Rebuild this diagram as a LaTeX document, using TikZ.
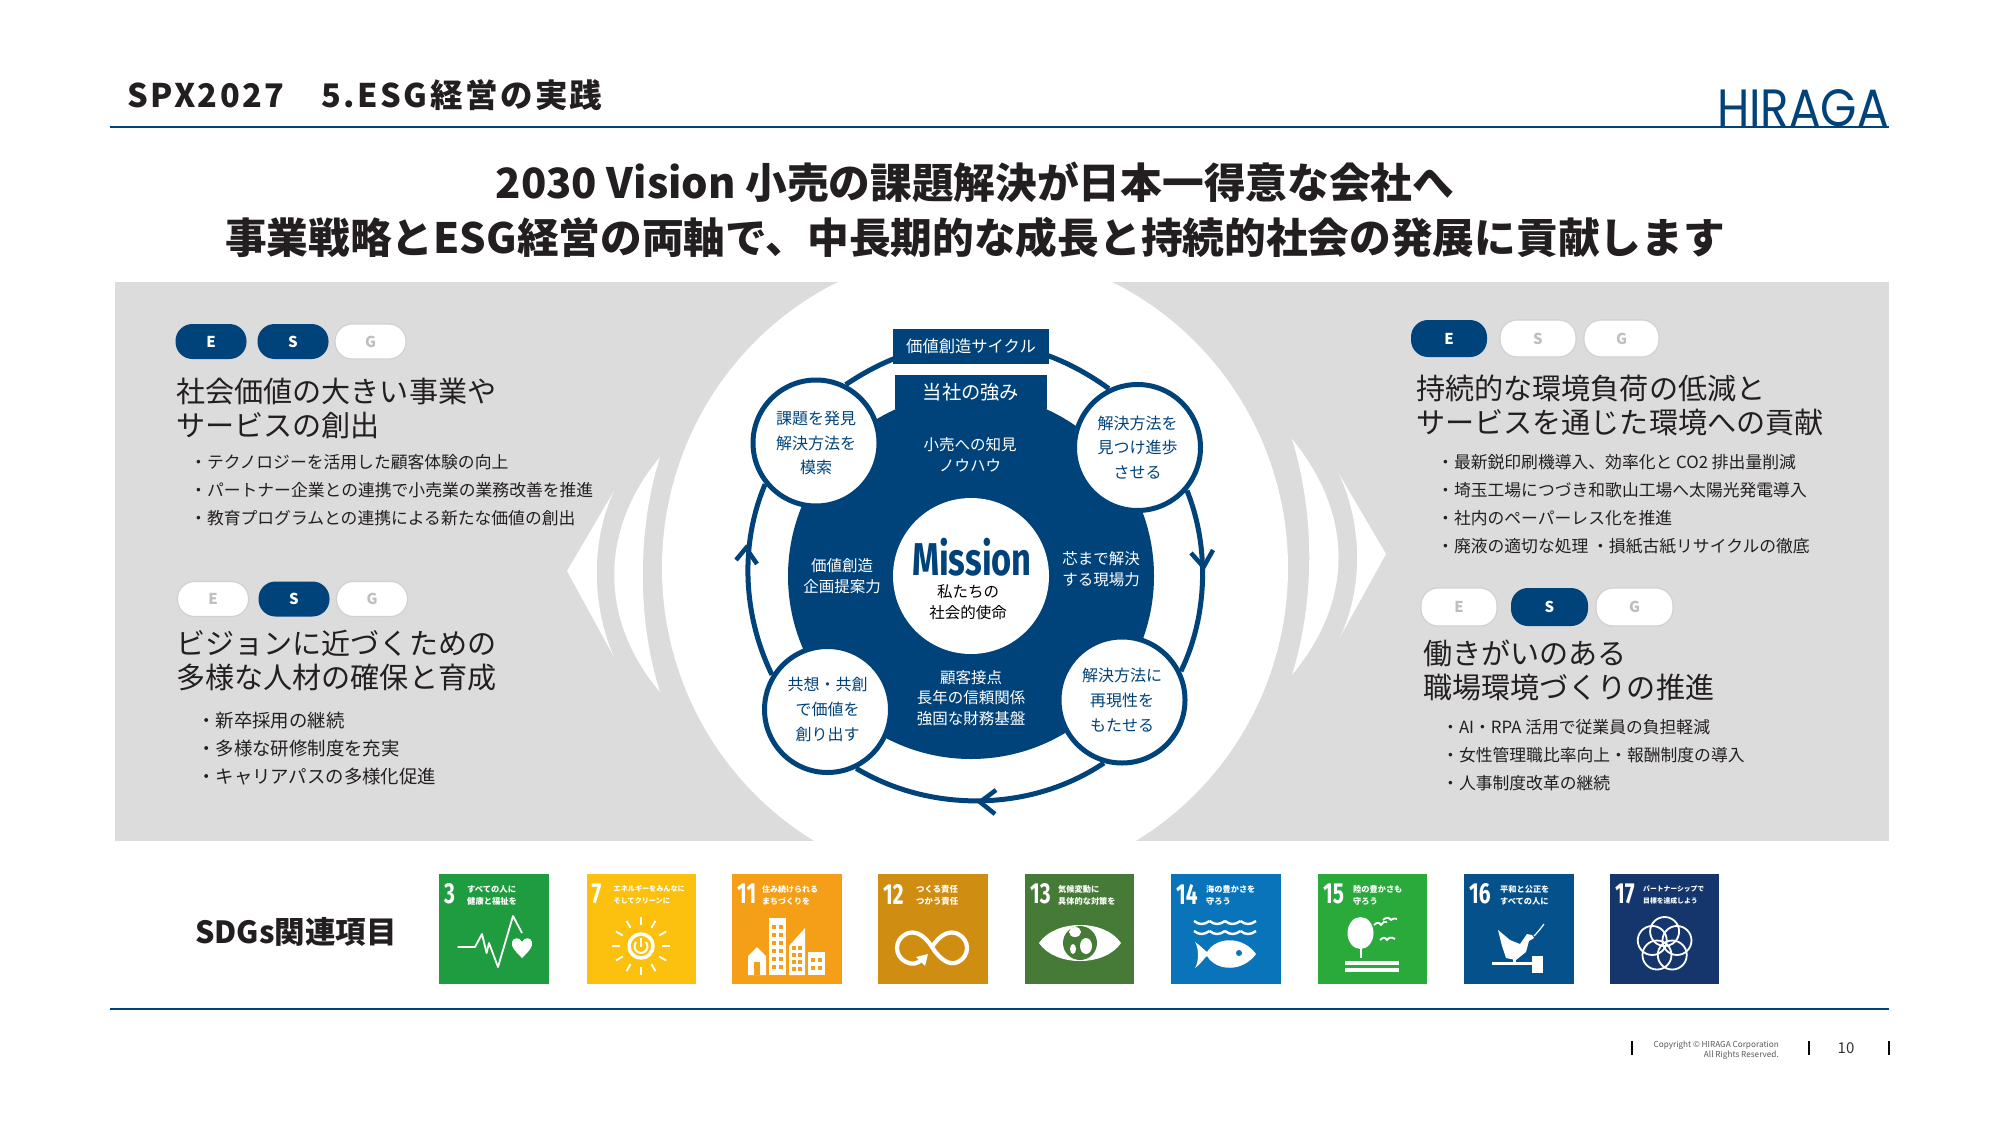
\documentclass[tikz,border=0pt]{standalone}
\usepackage{fontspec}
\setmainfont{Noto Sans CJK JP}
\newfontfamily\spacedfont[LetterSpace=7.5]{Noto Sans CJK JP}
\newfontfamily\logofont{Poppins}
\newfontfamily\numfont{Fira Sans}
\definecolor{navy}{HTML}{00437A}
\definecolor{panelgray}{HTML}{DCDCDC}
\definecolor{inkdark}{HTML}{231F20}
\definecolor{sdgiii}{HTML}{1F9C3F}
\definecolor{sdgvii}{HTML}{FBC10E}
\definecolor{sdgxi}{HTML}{F59E17}
\definecolor{sdgxii}{HTML}{CF8E12}
\definecolor{sdgxiii}{HTML}{467A37}
\definecolor{sdgxiv}{HTML}{0A74BA}
\definecolor{sdgxv}{HTML}{2BAA3C}
\definecolor{sdgxvi}{HTML}{04518C}
\definecolor{sdgxvii}{HTML}{15366D}
\tikzset{
  pillon/.style={rounded corners=17pt,fill=navy,text=white,minimum width=71pt,minimum height=35pt,inner sep=0pt,font=\fontsize{15}{15}\selectfont\bfseries},
  pilloff/.style={rounded corners=17pt,fill=white,draw=black!18,line width=1.2pt,text=black!25,minimum width=71pt,minimum height=35pt,inner sep=0pt,font=\fontsize{15}{15}\selectfont\bfseries},
  headline/.style={anchor=west,align=left,inner sep=0pt,text=inkdark,font=\fontsize{29.1}{34}\selectfont},
  bullets/.style={anchor=west,align=left,inner sep=0pt,text=inkdark,font=\fontsize{16.8}{28}\selectfont},
  stepcircle/.style={circle,draw=navy,line width=5pt,fill=white,minimum size=126pt,inner sep=0pt,align=center,text=navy,font=\fontsize{16}{24.8}\selectfont},
  disctext/.style={align=center,inner sep=0pt,text=white,font=\fontsize{15.5}{20.7}\selectfont},
  ringline/.style={draw=navy,line width=5pt},
  iconline/.style={draw=white,line width=1.8pt,line join=round},
  sdgtext/.style={anchor=west,align=left,inner sep=0pt,text=white}
}
\newcommand{\sdgbox}[7]{%
  \fill[#2] (0,0) rectangle (#1,110);
  \node[inner sep=0pt,text=white,anchor=west] (num#3) at (5,20) {\scalebox{.72}[1]{\numfont\bfseries\fontsize{29}{29}\selectfont #3}};
  \node[sdgtext,font=\bfseries\fontsize{#5}{#6}\selectfont] (txt#3) at (#4,21) {#7};
}
\begin{document}
\begin{tikzpicture}[x=1pt,y=-1pt]
\useasboundingbox (0,0) rectangle (2000,1121);
\fill[white] (0,0) rectangle (2000,1121);

\draw[navy,line width=2.2pt] (110,127)--(1889,127);
\draw[navy,line width=2.2pt] (110,1009)--(1889,1009);
\node[anchor=west,inner sep=0pt,text=inkdark,font=\spacedfont\bfseries\fontsize{32.5}{32.5}\selectfont] (pagetitle) at (127,95) {SPX2027　5.ESG経営の実践};
\node[anchor=base east,inner sep=0pt,text=navy] (logo) at (1889,127) {\scalebox{1.07}[1.2]{\logofont\fontsize{43.7}{43.7}\selectfont HIRAGA}};

\node[inner sep=0pt,text=inkdark,font=\bfseries\fontsize{41.7}{41.7}\selectfont] (visionone) at (975,182) {2030 Vision 小売の課題解決が日本一得意な会社へ};
\node[inner sep=0pt,text=inkdark,font=\bfseries\fontsize{41.7}{41.7}\selectfont] (visiontwo) at (975,238) {事業戦略とESG経営の両軸で、中長期的な成長と持続的社会の発展に貢献します};

\begin{scope}
\clip (115,282) rectangle (1889,841);
\fill[panelgray] (115,282) rectangle (1889,841);
\fill[white] (975,568) ellipse [x radius=313pt,y radius=318pt];
\end{scope}

\fill[white] (567,571)--(614,491) .. controls (591,540) and (591,605) .. (614,657)--cycle;
\fill[white] (660,457) .. controls (599,530) and (599,620) .. (660,692) .. controls (637,620) and (637,530) .. (660,457);
\fill[white] (1292,439) .. controls (1315,515) and (1315,600) .. (1292,675) .. controls (1354,600) and (1354,515) .. (1292,439);
\fill[white] (1339,474) .. controls (1363,525) and (1363,590) .. (1340,637)--(1386,554)--cycle;

\fill[navy] (971,576) circle [radius=183pt];
\node[fill=navy,minimum width=152pt,minimum height=34pt,inner sep=0pt,text=white,font=\fontsize{19.3}{19.3}\selectfont] (strength) at (971,392) {当社の強み};
\fill[white] (971,576) circle [radius=78pt];

\node[stepcircle] (find) at (816,443) {課題を発見\\解決方法を\\模索};
\node[stepcircle] (advance) at (1137.5,447.5) {解決方法を\\見つけ進歩\\させる};
\node[stepcircle] (repeatable) at (1122,700) {解決方法に\\再現性を\\もたせる};
\node[stepcircle] (cocreate) at (827.5,709.5) {共想・共創\\で価値を\\創り出す};

\draw[ringline] (find.63) to[out=34,in=144] (advance.116);
\draw[ringline] (advance.-41) to[out=-68,in=64,looseness=.86] (repeatable.26);
\draw[ringline] (repeatable.-106) to[out=214,in=-31,looseness=.9] (cocreate.-64);
\draw[ringline] (cocreate.148) to[out=116,in=247,looseness=.88] (find.219);
\draw[ringline,line width=4.5pt] (1191,553)--(1203.6,567)--(1213,550);
\draw[ringline,line width=4.5pt] (736,560)--(746,548)--(757,564);
\draw[ringline,line width=4.5pt] (996,790)--(980,802)--(995,814);

\node[fill=navy,minimum width=156pt,minimum height=35pt,inner sep=0pt,text=white,font=\fontsize{16.3}{16.3}\selectfont] (cycle) at (971,346.5) {価値創造サイクル};

\node[disctext] (knowhow) at (970,454.5) {小売への知見\\ノウハウ};
\node[disctext] (proposal) at (842,576) {価値創造\\企画提案力};
\node[disctext] (solving) at (1101,569) {芯まで解決\\する現場力};
\node[disctext] (customer) at (971,698) {顧客接点\\長年の信頼関係\\強固な財務基盤};
\node[inner sep=0pt,text=navy] (mission) at (972,557) {\scalebox{.75}[1]{\numfont\bfseries\fontsize{46}{46}\selectfont Mission}};
\node[disctext,text=black] (purpose) at (968,602.5) {私たちの\\社会的使命};

\node[pillon] (pea) at (211,341.5) {E};
\node[pillon] (pes) at (293,341.5) {S};
\node[pilloff] (peg) at (370.5,341.5) {G};
\node[headline] (headvalue) at (176,408) {社会価値の大きい事業や\\サービスの創出};
\node[bullets] (listvalue) at (190,490) {・テクノロジーを活用した顧客体験の向上\\・パートナー企業との連携で小売業の業務改善を推進\\・教育プログラムとの連携による新たな価値の創出};

\node[pilloff] (pbe) at (213,599) {E};
\node[pillon] (pbs) at (294,599) {S};
\node[pilloff] (pbg) at (372,599) {G};
\node[headline] (headpeople) at (176,660.5) {ビジョンに近づくための\\多様な人材の確保と育成};
\node[bullets,font=\fontsize{18.4}{28}\selectfont] (listpeople) at (197,748.5) {・新卒採用の継続\\・多様な研修制度を充実\\・キャリアパスの多様化促進};

\node[pillon,minimum width=76pt,minimum height=37pt] (qae) at (1449,338.5) {E};
\node[pilloff,minimum width=76pt,minimum height=37pt] (qas) at (1538,338.5) {S};
\node[pilloff,minimum width=75pt,minimum height=37pt] (qag) at (1621.5,338.5) {G};
\node[headline] (headenv) at (1416,405.5) {持続的な環境負荷の低減と\\サービスを通じた環境への貢献};
\node[bullets] (listenv) at (1437,504) {・最新鋭印刷機導入、効率化と CO2 排出量削減\\・埼玉工場につづき和歌山工場へ太陽光発電導入\\・社内のペーパーレス化を推進\\・廃液の適切な処理 ・損紙古紙リサイクルの徹底};

\node[pilloff,minimum width=76pt,minimum height=38pt] (qbe) at (1459,607) {E};
\node[pillon,minimum width=77pt,minimum height=38pt] (qbs) at (1549.5,607) {S};
\node[pilloff,minimum width=77pt,minimum height=38pt] (qbg) at (1634.5,607) {G};
\node[headline] (headwork) at (1423,670) {働きがいのある\\職場環境づくりの推進};
\node[bullets] (listwork) at (1442,755) {・AI・RPA 活用で従業員の負担軽減\\・女性管理職比率向上・報酬制度の導入\\・人事制度改革の継続};

\node[anchor=west,inner sep=0pt,text=inkdark,font=\bfseries\fontsize{30.5}{30.5}\selectfont] (sdglabel) at (195,932) {SDGs関連項目};

\begin{scope}[shift={(439,874)}]
\sdgbox{110}{sdgiii}{3}{28}{8.3}{12}{すべての人に\\健康と福祉を}
\draw[iconline] (18.6,73)--(36,73)--(43,60)--(47.6,79)--(50,69)--(59,93)--(74,42)--(83,59);
\fill[white] (83,84) .. controls (76,77) and (72,73) .. (73,68) .. controls (74,63) and (81,63) .. (83,68) .. controls (85,63) and (92,63) .. (93,68) .. controls (94,73) and (90,77) .. (83,84);
\end{scope}

\begin{scope}[shift={(586.5,874)}]
\sdgbox{109}{sdgvii}{7}{27}{7.1}{12}{エネルギーをみんなに\\そしてクリーンに}
\begin{scope}[shift={(54.5,72)}]
\draw[iconline,line width=3.5pt] (0,0) circle [radius=12pt];
\draw[iconline,line width=2pt] (-5,-4) .. controls (-9,3) and (-4,7) .. (0,7) .. controls (4,7) and (9,3) .. (5,-4);
\draw[iconline,line width=2pt] (0,-8)--(0,1);
\foreach \a in {0,30,...,330} \draw[iconline] (\a:21pt)--(\a:29pt);
\end{scope}
\end{scope}

\begin{scope}[shift={(732,874)}]
\sdgbox{110}{sdgxi}{11}{30}{8}{12}{住み続けられる\\まちづくりを}
\fill[white] (16,82)--(25,73)--(34,82)--(34,101)--(16,101)--cycle;
\fill[sdgxi] (22,88) rectangle (28,101);
\fill[white] (37,44) rectangle (54,101);
\fill[white] (57,72)--(73,54)--(73,101)--(57,101)--cycle;
\fill[white] (76,78) rectangle (93,101);
\foreach \y in {51,59,67,75,83,91} {\fill[sdgxi] (40,\y) rectangle (44,\y+4);\fill[sdgxi] (47,\y) rectangle (51,\y+4);}
\foreach \y in {72,79,86,93} {\fill[sdgxi] (60,\y) rectangle (64,\y+4);\fill[sdgxi] (66,\y) rectangle (70,\y+4);}
\foreach \y in {84,92} {\fill[sdgxi] (79,\y) rectangle (83,\y+4);\fill[sdgxi] (86,\y) rectangle (90,\y+4);}
\end{scope}

\begin{scope}[shift={(878,874)}]
\sdgbox{110}{sdgxii}{12}{38}{8.4}{12}{つくる責任\\つかう責任}
\draw[white,line width=4.2pt] (54,73) .. controls (62,60) and (72,56) .. (80,60) .. controls (92,66) and (92,82) .. (80,88) .. controls (72,92) and (62,86) .. (54,73) .. controls (46,60) and (36,56) .. (28,60) .. controls (16,66) and (16,82) .. (28,88) .. controls (34,91) and (40,90) .. (44,85);
\fill[white] (50,80)--(47,92)--(38,83)--cycle;
\end{scope}

\begin{scope}[shift={(1025,874)}]
\sdgbox{109}{sdgxiii}{13}{33}{8.2}{12}{気候変動に\\具体的な対策を}
\fill[white] (14,69) .. controls (30,45) and (80,45) .. (96,69) .. controls (80,93) and (30,93) .. (14,69);
\fill[sdgxiii] (55,69) circle [radius=17pt];
\fill[white] (50,58) ellipse [x radius=6pt,y radius=5pt];
\fill[white] (61,72) ellipse [x radius=6pt,y radius=8pt];
\fill[white] (48,75) ellipse [x radius=3pt,y radius=5pt];
\end{scope}

\begin{scope}[shift={(1171,874)}]
\sdgbox{110}{sdgxiv}{14}{35}{8.2}{12}{海の豊かさを\\守ろう}
\foreach \y in {47,57} \foreach \x in {23,38.5,54,69.5} \draw[white,line width=2.4pt] (\x,\y) .. controls (\x+5,\y+4) and (\x+10,\y+4) .. (\x+15.5,\y);
\fill[white] (24,68) .. controls (30,72) and (33,76) .. (36,78) .. controls (46,62) and (72,62) .. (85,80) .. controls (72,98) and (46,98) .. (36,82) .. controls (33,84) and (30,90) .. (24,94) .. controls (28,88) and (28,74) .. (24,68);
\fill[sdgxiv] (68,79) circle [radius=3pt];
\end{scope}

\begin{scope}[shift={(1318,874)}]
\sdgbox{109}{sdgxv}{15}{35}{8.2}{12}{陸の豊かさも\\守ろう}
\fill[white] (42.5,59) ellipse [x radius=13pt,y radius=16pt];
\fill[white] (41.5,74) rectangle (44,84);
\fill[white] (27,87) rectangle (81,90.5);
\fill[white] (27,94) rectangle (81,97.5);
\draw[iconline] (56,51) .. controls (59,48) and (61,48) .. (63,51) .. controls (65,48) and (67,47) .. (69,48);
\draw[iconline] (65,46) .. controls (68,43) and (71,43) .. (73,46) .. controls (75,44) and (77,44) .. (79,45);
\draw[iconline] (62,66) .. controls (65,63) and (67,63) .. (69,66) .. controls (71,63) and (74,63) .. (77,65);
\end{scope}

\begin{scope}[shift={(1464,874)}]
\sdgbox{110}{sdgxvi}{16}{36}{8.2}{12}{平和と公正を\\すべての人に}
\fill[white] (34,56)--(46,66)--(56,70)--(63,60)--(68,61)--(70,64)--(65,67)--(62,78)--(52,86)--(42,84)--(38,72)--cycle;
\draw[iconline,line width=1.2pt] (70,62) .. controls (74,58) and (77,54) .. (80,50);
\fill[white] (28,88) rectangle (68,90.5);
\fill[white] (68,82) rectangle (79,99);
\fill[white] (49,84) rectangle (52,89);
\end{scope}

\begin{scope}[shift={(1610,874)}]
\sdgbox{109}{sdgxvii}{17}{33}{6.8}{12}{パートナーシップで\\目標を達成しよう}
\begin{scope}[shift={(54.6,70.5)}]
\foreach \a in {90,162,234,306,18} \draw[iconline] (\a:13pt) circle [radius=14.5pt];
\end{scope}
\end{scope}

\draw[black,line width=1.2pt] (1632,1041)--(1632,1055);
\draw[black,line width=1.2pt] (1809,1041)--(1809,1055);
\draw[black,line width=1.2pt] (1889,1041)--(1889,1055);
\node[anchor=east,align=right,inner sep=0pt,text=black!65,font=\fontsize{8.2}{8.5}\selectfont] (copyright) at (1779,1050) {Copyright © HIRAGA Corporation\\All Rights Reserved.};
\node[inner sep=0pt,text=black!80,font=\fontsize{15}{15}\selectfont] (pagenumber) at (1846,1048) {10};
\end{tikzpicture}
\end{document}
